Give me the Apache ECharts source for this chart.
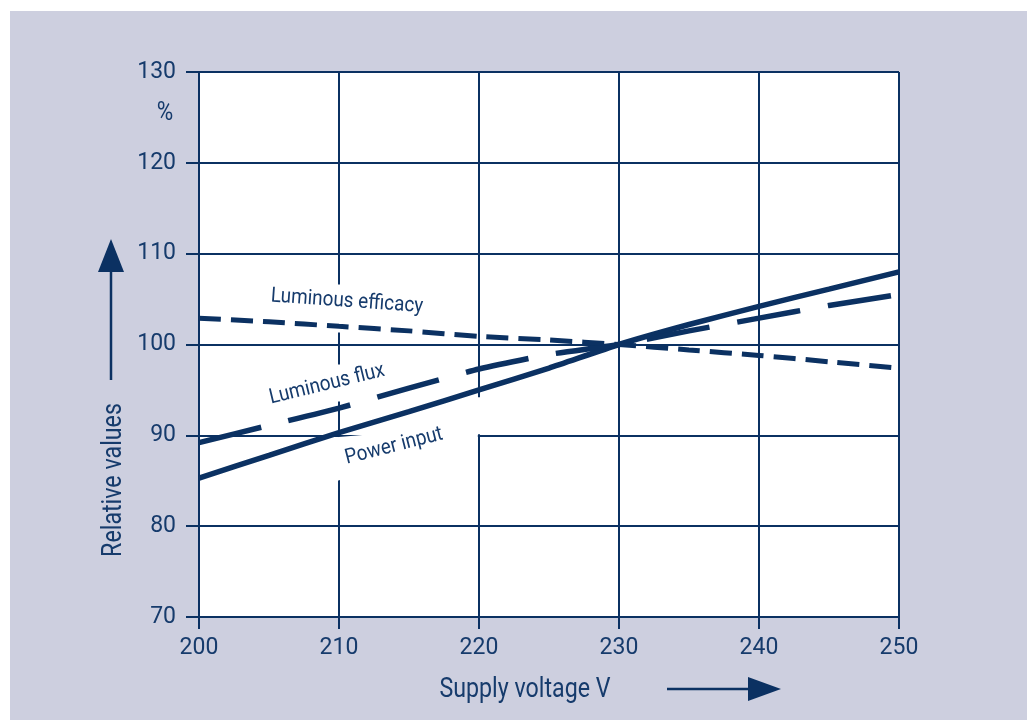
<!DOCTYPE html>
<html>
<head>
<meta charset="utf-8">
<script src="https://cdn.jsdelivr.net/npm/echarts@6/dist/echarts.min.js"></script>
<style>
html,body{margin:0;padding:0;background:#ffffff;}
#chart{width:1027px;height:720px;}
</style>
</head>
<body>
<div id="chart"></div>
<script>
// ---- data ----
const volts = [200, 205, 210, 215, 220, 225, 230, 235, 240, 245, 250];
const powerInput = [85.3, 87.8, 90.3, 92.6, 95.0, 97.4, 100.0, 102.2, 104.2, 106.1, 108.0];
const luminousFlux = [89.2, 91.1, 93.0, 95.2, 97.3, 98.9, 100.0, 101.5, 102.9, 104.3, 105.5];
const luminousEfficacy = [102.9, 102.5, 102.0, 101.5, 100.9, 100.5, 100.0, 99.4, 98.8, 98.1, 97.4];
const seriesNames = ['Power input', 'Luminous flux', 'Luminous efficacy'];
const xAxisTitle = 'Supply voltage V';
const yAxisTitle = 'Relative values';
const yUnit = '%';
const xRange = {min: 200, max: 250, interval: 10};
const yRange = {min: 70, max: 130, interval: 10};

// ---- style ----
const NAVY = '#0b3162';
const TEXT = '#163b6c';
const PANEL = '#cdcfdf';
const FONT = "Roboto, 'Liberation Sans', sans-serif";

const chart = echarts.init(document.getElementById('chart'), null, {renderer: 'canvas'});

function pairs(arr) { return volts.map((v, i) => [v, arr[i]]); }

const option = {
  animation: false,
  backgroundColor: '#ffffff',
  grid: {
    left: 199, top: 72, width: 700, height: 545,
    show: true, backgroundColor: '#ffffff', borderWidth: 0
  },
  xAxis: {
    type: 'value', min: xRange.min, max: xRange.max, interval: xRange.interval,
    axisLine: {show: true, lineStyle: {color: NAVY, width: 2}},
    axisTick: {show: true, inside: false, length: 12, lineStyle: {color: NAVY, width: 2}},
    splitLine: {show: true, lineStyle: {color: NAVY, width: 2}},
    axisLabel: {color: TEXT, fontFamily: FONT, fontSize: 23, margin: 20}
  },
  yAxis: {
    type: 'value', min: yRange.min, max: yRange.max, interval: yRange.interval,
    axisLine: {show: true, lineStyle: {color: NAVY, width: 2}},
    axisTick: {show: true, inside: false, length: 13, lineStyle: {color: NAVY, width: 2}},
    splitLine: {show: true, lineStyle: {color: NAVY, width: 2}},
    axisLabel: {color: TEXT, fontFamily: FONT, fontSize: 23, margin: 23}
  },
  series: [
    {
      name: seriesNames[0], type: 'line', data: pairs(powerInput), smooth: 0.2,
      showSymbol: false, z: 5,
      lineStyle: {color: NAVY, width: 5.5, cap: 'butt'}
    },
    {
      name: seriesNames[1], type: 'line', data: pairs(luminousFlux), smooth: 0.2,
      showSymbol: false, z: 5,
      lineStyle: {color: NAVY, width: 5.5, type: [64, 28], cap: 'butt'}
    },
    {
      name: seriesNames[2], type: 'line', data: pairs(luminousEfficacy), smooth: 0.2,
      showSymbol: false, z: 5,
      lineStyle: {color: NAVY, width: 5, type: [22, 10], cap: 'butt'}
    }
  ]
};
chart.setOption(option);

// ---- annotations, positioned from the axes ----
const X = v => chart.convertToPixel({gridIndex: 0}, [v, yRange.min])[0];
const Y = v => chart.convertToPixel({gridIndex: 0}, [xRange.min, v])[1];
const x210 = X(210), x220 = X(220), y90 = Y(90), y100 = Y(100);

function label(text, x, y, rot, size, sx) {
  return {type: 'text', z: 10, silent: true, x: x, y: y, rotation: rot, scaleX: sx || 1,
    style: {text: text, fill: TEXT, font: size + 'px ' + FONT, align: 'center', verticalAlign: 'middle'}};
}

chart.setOption({
  graphic: [
    // grey panel behind everything
    {type: 'rect', z: -100, silent: true, shape: {x: 10, y: 11, width: 1017, height: 709}, style: {fill: PANEL}},
    // white boxes behind the in-plot labels (they interrupt the grid as in the original)
    {type: 'rect', z: 1, silent: true, shape: {x: x210 - 80, y: y100 - 60, width: 172, height: 48}, style: {fill: '#ffffff'}},
    {type: 'rect', z: 1, silent: true, shape: {x: x210 - 80, y: y100 + 20, width: 135, height: 37}, style: {fill: '#ffffff'}},
    {type: 'polygon', z: 1, silent: true, shape: {points: [
      [x210 - 3, y90 + 2], [x210 + 38, y90 - 1.5], [x220 - 1, y90 - 38], [x220 + 2, y90 - 38],
      [x220 + 2, y90 - 1.2], [x220 - 1.2, y90 - 1.2], [x220 - 1.2, y90 + 2], [x210 - 3, y90 + 46]
    ]}, style: {fill: '#ffffff'}},
    // in-plot labels
    label(seriesNames[2], x210 + 8, y100 - 43, -0.07, 21, 0.9),
    label(seriesNames[1], x210 - 12, y100 + 40, 0.24, 21, 0.9),
    label(seriesNames[0], x210 + 55, y90 + 11, 0.25, 21, 0.9),
    // unit
    label(yUnit, 165, 114, 0, 25, 0.9),
    // x axis title + arrow
    label(xAxisTitle, 525, 690, 0, 27, 0.86),
    {type: 'line', z: 10, silent: true, shape: {x1: 667, y1: 689, x2: 752, y2: 689}, style: {stroke: NAVY, lineWidth: 2.5}},
    {type: 'polygon', z: 10, silent: true, shape: {points: [[748, 677], [781, 689], [748, 701]]}, style: {fill: NAVY}},
    // y axis title + arrow
    label(yAxisTitle, 114, 480, Math.PI / 2, 27, 0.86),
    {type: 'line', z: 10, silent: true, shape: {x1: 111, y1: 380, x2: 111, y2: 268}, style: {stroke: NAVY, lineWidth: 2.5}},
    {type: 'polygon', z: 10, silent: true, shape: {points: [[98, 272], [111, 239], [124, 272]]}, style: {fill: NAVY}}
  ]
});
</script>
</body>
</html>
